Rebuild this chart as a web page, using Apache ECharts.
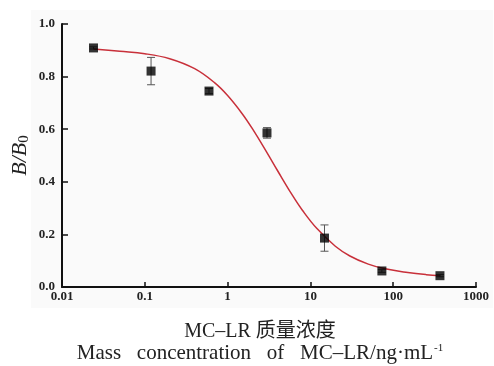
<!DOCTYPE html>
<html>
<head>
<meta charset="utf-8">
<script src="https://cdn.jsdelivr.net/npm/echarts@6/dist/echarts.min.js"></script>
<style>
  html, body { margin: 0; padding: 0; background: #fff; }
  #chart { width: 494px; height: 366px; }
</style>
</head>
<body>
<div id="chart"></div>
<script>
// measured points (concentration, B/B0, error)
const concs = [0.024, 0.119, 0.596, 2.99, 14.8, 73, 367]
const ratios = [0.909, 0.821, 0.745, 0.586, 0.186, 0.061, 0.043]
const errs = [0.004, 0.052, 0.01, 0.02, 0.05, 0.005, 0.004]

// fitted curve
const curveX = [0.024, 0.05, 0.1, 0.2, 0.4, 0.7, 1, 1.5, 2, 3, 4, 6, 8, 12, 20, 30, 50, 80, 150, 250, 370]
const curveY = [0.905, 0.896, 0.887, 0.868, 0.83, 0.776, 0.728, 0.659, 0.601, 0.51, 0.443, 0.351, 0.292, 0.222, 0.155, 0.118, 0.087, 0.069, 0.055, 0.047, 0.043]

const xTicks = ['0.01', '0.1', '1', '10', '100', '1000']

const serif = "'Liberation Serif', 'DejaVu Serif', serif"
const myChart = echarts.init(document.getElementById('chart'))

myChart.setOption({
  animation: false,
  graphic: [
    {
      type: 'rect',
      z: -10,
      shape: { x: 31, y: 10, width: 462, height: 298 },
      style: { fill: '#fafafa' }
    },
    {
      type: 'text',
      x: 260,
      y: 322,
      style: {
        text: 'MC–LR 质量浓度',
        align: 'center',
        font: "20px 'Liberation Serif', 'Noto Sans CJK SC', serif",
        fill: '#222'
      }
    },
    {
      type: 'text',
      x: 260,
      y: 343,
      style: {
        text: '{a|Mass   concentration   of   MC–LR/ng·mL}{s|-1}',
        align: 'center',
        rich: {
          a: { fontFamily: serif, fontSize: 21, fill: '#222' },
          s: { fontFamily: serif, fontSize: 11, fill: '#222', padding: [0, 0, 10, 1] }
        }
      }
    }
  ],
  grid: { left: 62, right: 18, top: 24, bottom: 79, outerBoundsMode: 'none' },
  xAxis: {
    type: 'log',
    logBase: 10,
    min: 0.01,
    max: 1000,
    axisLine: { lineStyle: { color: '#111', width: 2 } },
    axisTick: { inside: true, length: 5, lineStyle: { color: '#111', width: 1.5 } },
    minorTick: { show: false },
    splitLine: { show: false },
    axisLabel: {
      color: '#222',
      fontFamily: serif,
      fontWeight: 'bold',
      fontSize: 13,
      margin: 3,
      formatter: function (v) {
        const i = Math.round(Math.log10(v)) + 2
        return xTicks[i] || ''
      }
    }
  },
  yAxis: {
    type: 'value',
    min: 0,
    max: 1,
    interval: 0.2,
    name: '{i|B/B}{s|0}',
    nameLocation: 'middle',
    nameGap: 30,
    nameMoveOverlap: false,
    nameRotate: 90,
    nameTextStyle: {
      rich: {
        i: { fontFamily: serif, fontStyle: 'italic', fontSize: 22, color: '#222' },
        s: { fontFamily: serif, fontSize: 15, color: '#222', padding: [8, 0, 0, 0] }
      }
    },
    axisLine: { show: true, lineStyle: { color: '#111', width: 2 } },
    axisTick: { show: true, inside: true, length: 6, lineStyle: { color: '#111', width: 1.5 } },
    splitLine: { show: false },
    axisLabel: {
      color: '#222',
      fontFamily: serif,
      fontWeight: 'bold',
      fontSize: 13,
      margin: 7,
      formatter: v => v.toFixed(1)
    }
  },
  series: [
    {
      type: 'line',
      data: curveX.map((x, i) => [x, curveY[i]]),
      smooth: 0.4,
      showSymbol: false,
      lineStyle: { color: '#c8303a', width: 1.5 },
      z: 2
    },
    {
      type: 'custom',
      data: concs.map((x, i) => [x, ratios[i] - errs[i], ratios[i] + errs[i]]),
      renderItem: function (params, api) {
        const lo = api.coord([api.value(0), api.value(1)])
        const hi = api.coord([api.value(0), api.value(2)])
        const w = 4
        const st = { stroke: '#555', lineWidth: 1 }
        return {
          type: 'group',
          children: [
            { type: 'line', shape: { x1: lo[0], y1: lo[1], x2: hi[0], y2: hi[1] }, style: st },
            { type: 'line', shape: { x1: lo[0] - w, y1: lo[1], x2: lo[0] + w, y2: lo[1] }, style: st },
            { type: 'line', shape: { x1: hi[0] - w, y1: hi[1], x2: hi[0] + w, y2: hi[1] }, style: st }
          ]
        }
      },
      z: 3
    },
    {
      type: 'scatter',
      data: concs.map((x, i) => [x, ratios[i]]),
      symbol: 'rect',
      symbolSize: 9,
      itemStyle: { color: '#000' },
      z: 4
    }
  ]
})
</script>
</body>
</html>
